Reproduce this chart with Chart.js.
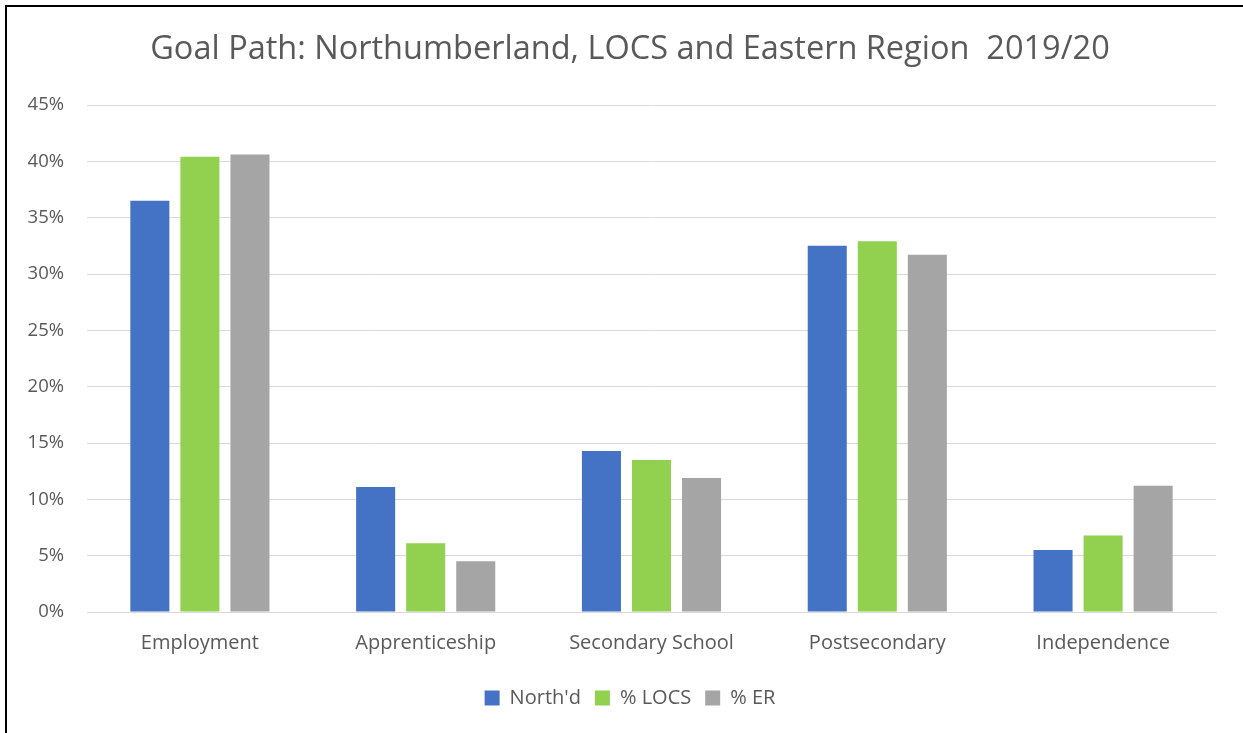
<!DOCTYPE html>
<html>
<head>
<meta charset="utf-8">
<script src="https://cdn.jsdelivr.net/npm/chart.js@4/dist/chart.umd.min.js"></script>
<style>
html,body{margin:0;padding:0;background:#fff;}
#wrap{position:absolute;left:5px;top:5px;width:1238px;height:728px;border-top:2px solid #000;border-left:2px solid #000;box-sizing:border-box;}
#box{position:absolute;left:0;top:0;width:1243px;height:733px;}
</style>
</head>
<body>
<div id="wrap"></div>
<div id="box"><canvas id="barchart"></canvas></div>
<script>
var categories = ["Employment","Apprenticeship","Secondary School","Postsecondary","Independence"]
var northd = [36.5, 11.1, 14.3, 32.5, 5.5]
var locs = [40.4, 6.1, 13.5, 32.9, 6.8]
var er = [40.6, 4.5, 11.9, 31.7, 11.2]
var seriesNames = ["North'd","% LOCS","% ER"]
var font = "'Open Sans', 'Liberation Sans', sans-serif"

var ctx = document.getElementById('barchart').getContext('2d');
var myChart = new Chart(ctx, {
    type: 'bar',
    data: {
        labels: categories,
        datasets: [
            {label: seriesNames[0], data: northd, backgroundColor: '#4472C4'},
            {label: seriesNames[1], data: locs, backgroundColor: '#92D050'},
            {label: seriesNames[2], data: er, backgroundColor: '#A5A5A5'}
        ]
    },
    options: {
        responsive: true,
        maintainAspectRatio: false,
        animation: false,
        datasets: {bar: {barPercentage: 0.78, categoryPercentage: 0.665}},
        layout: {padding: {left: 20, right: 3, top: 19, bottom: 15}},
        scales: {
            x: {
                grid: {display: false, drawTicks: false},
                border: {color: '#d9d9d9', width: 1},
                ticks: {color: '#595959', font: {family: font, size: 20}, padding: 19}
            },
            y: {
                min: 0, max: 45,
                grid: {color: '#d9d9d9', drawTicks: false},
                border: {display: false},
                afterFit: function(scale){ scale.width = 67 },
                ticks: {
                    stepSize: 5, padding: 23,
                    color: '#595959', font: {family: font, size: 18.5},
                    callback: function(v){ return v + '%' }
                }
            },
            // empty spacer on the right so the legend sits where it does in the original
            y2: {
                position: 'right',
                grid: {display: false, drawTicks: false},
                border: {display: false},
                ticks: {display: false},
                afterFit: function(scale){ scale.width = 24 }
            }
        },
        plugins: {
            title: {
                display: true,
                text: 'Goal Path: Northumberland, LOCS and Eastern Region  2019/20',
                color: '#595959',
                font: {family: font, size: 32.5, weight: 'normal'},
                padding: {top: 11, bottom: 36}
            },
            legend: {
                position: 'bottom',
                labels: {
                    color: '#595959', font: {family: font, size: 20},
                    boxWidth: 15, boxHeight: 15, padding: 14
                }
            },
            tooltip: {enabled: false}
        }
    }
});
</script>
</body>
</html>
